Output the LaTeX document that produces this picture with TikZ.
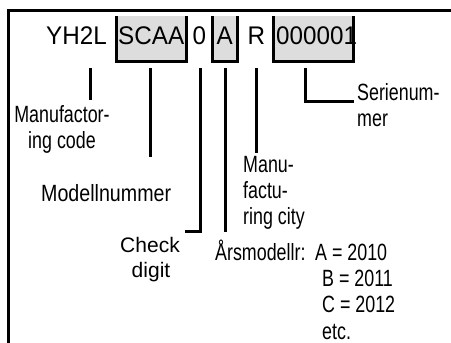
\documentclass[tikz,border=0pt]{standalone}
\usepackage{fontspec}
\setmainfont{Liberation Sans}
\newfontfamily\condfont[FakeStretch=0.76]{Liberation Sans}
\newfontfamily\codefont[FakeStretch=0.95]{Liberation Sans}
\definecolor{boxgray}{RGB}{221,221,221}
\begin{document}
\begin{tikzpicture}[x=1pt,y=-1pt,
  code/.style={font=\codefont\fontsize{25.5}{28}\selectfont, inner sep=0pt, anchor=base west},
  lbl/.style={font=\condfont\fontsize{23.5}{26}\selectfont, inner sep=0pt, anchor=base west},
  lblc/.style={lbl, anchor=base},
  chk/.style={font=\fontsize{21}{25}\selectfont, inner sep=0pt, anchor=base},
  rule/.style={line width=3pt, line join=miter},
  graybox/.style={fill=boxgray, draw=none}
]
\useasboundingbox (0,0) rectangle (451,343);
% frame
\coordinate (ftr) at (451,10);
\coordinate (ftl) at (8,10);
\coordinate (fbl) at (8,343);
\draw[rule] (ftr) -- (ftl) -- (fbl);

% gray boxes
\fill[graybox] (116,16) rectangle (186,61);
\fill[graybox] (212,16) rectangle (237,61);
\fill[graybox] (273,16) rectangle (353,61);

% code text
\node[code] (yh) at (46,44) {YH2L};
\node[code] (scaa) at (118,44) {SCAA};
\node[code] (zero) at (192.5,44) {0};
\node[code] (a) at (216.5,44) {A};
\node[code] (r) at (247.5,44) {R};
\node[code] (ser) at (276,44) {000001};

% brackets
\draw[rule] (116,16) -- (116,61) -- (186,61) -- (186,16);
\draw[rule] (212,16) -- (212,61) -- (237,61) -- (237,16);
\draw[rule] (273,16) -- (273,61) -- (353,61) -- (353,16);

% stem coordinates
\coordinate (s1a) at (90,68);  \coordinate (s1b) at (90,100);
\coordinate (s2a) at (150,68); \coordinate (s2b) at (150,157);
\coordinate (s3a) at (200,68); \coordinate (s3b) at (200,231); \coordinate (s3c) at (185,231);
\coordinate (s4a) at (225,68); \coordinate (s4b) at (225,232);
\coordinate (s5a) at (256,68); \coordinate (s5b) at (256,153);
\coordinate (s6a) at (305,68); \coordinate (s6b) at (305,101); \coordinate (s6c) at (354,101);

\draw[rule] (s1a) -- (s1b);
\draw[rule] (s2a) -- (s2b);
\draw[rule] (s3a) -- (s3b) -- (s3c);
\draw[rule] (s4a) -- (s4b);
\draw[rule] (s5a) -- (s5b);
\draw[rule] (s6a) -- (s6b) -- (s6c);

% labels
\node[lblc] (mc1) at (62,122) {Manufactor-};
\node[lblc] (mc2) at (62,148) {ing code};
\node[lbl] (mn) at (41,201) {\scalebox{1.1}[1]{Modellnummer}};
\node[lbl] (cy1) at (243,172) {Manu-};
\node[lbl] (cy2) at (243,198) {factu-};
\node[lbl] (cy3) at (243,224) {ring city};
\node[lbl] (sn1) at (357,100) {Serienum-};
\node[lbl] (sn2) at (357,126) {mer};
\node[chk] (cd1) at (150,252) {Check};
\node[chk] (cd2) at (151,277) {digit};
\node[lbl] (am) at (215,260) {Årsmodellr:};
\node[lbl] (y1) at (315,260) {A = 2010};
\node[lbl] (y2) at (322,286) {B = 2011};
\node[lbl] (y3) at (322,312) {C = 2012};
\node[lbl] (y4) at (322,339) {etc.};
\end{tikzpicture}
\end{document}
